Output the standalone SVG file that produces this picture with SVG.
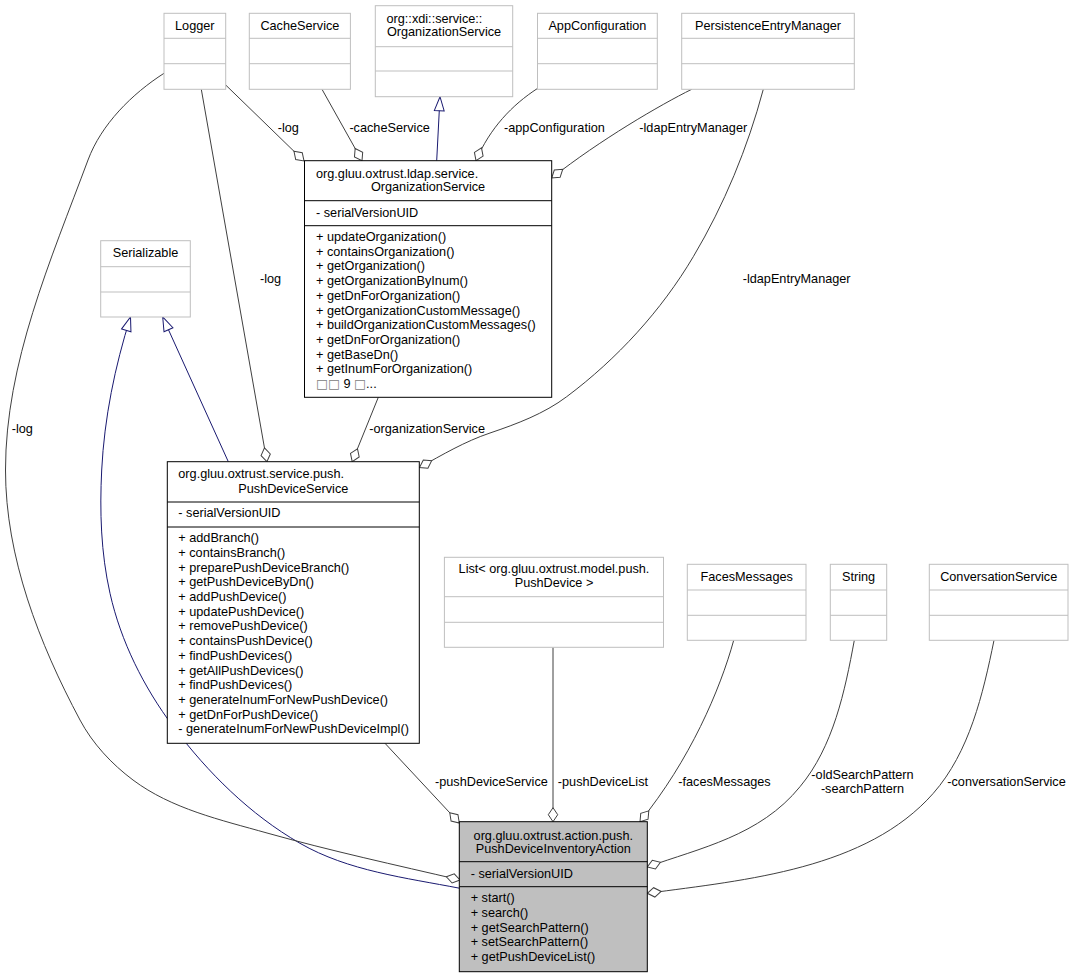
<svg xmlns="http://www.w3.org/2000/svg" width="1073" height="977" viewBox="0 0 1073 977">
<style>
text{font-family:"Liberation Sans",Arial,sans-serif;font-size:12.7px;fill:#000}
.c{text-anchor:middle}
.ext{fill:#fff;stroke:#bfbfbf;stroke-width:1}
.extl{stroke:#bfbfbf;stroke-width:1}
.main{fill:#fff;stroke:#000;stroke-width:1}
.cur{fill:#bfbfbf;stroke:#000;stroke-width:1}
.ml{stroke:#000;stroke-width:1}
.use{fill:none;stroke:#404040;stroke-width:1;marker-end:url(#dia)}
.inh{fill:none;stroke:#191970;stroke-width:1;marker-end:url(#tri)}
.tofu{fill:#808080;font-family:"DejaVu Sans",sans-serif}
</style>
<defs>
<marker id="dia" markerUnits="userSpaceOnUse" viewBox="-1 -6 16 12" markerWidth="16" markerHeight="12" refX="14" refY="0" orient="auto" style="overflow:visible">
<path d="M0,0 L7,-4.7 L14,0 L7,4.7 Z" fill="#fff" stroke="#404040" stroke-width="1"/>
</marker>
<marker id="tri" markerUnits="userSpaceOnUse" viewBox="-1 -6 16 12" markerWidth="16" markerHeight="12" refX="14" refY="0" orient="auto" style="overflow:visible">
<path d="M0,-4.9 L14,0 L0,4.9 Z" fill="#fff" stroke="#191970" stroke-width="1"/>
</marker>
</defs>
<rect width="1073" height="977" fill="#fff"/>
<g id="connectors">
<g id="e-logger-orgsvc"><path class="use" d="M225.7,85 L304,161"/><text x="277.7" y="132">-log</text></g>
<g id="e-cache-orgsvc"><path class="use" d="M322,89.3 L362,160.7"/><text x="349.4" y="132">-cacheService</text></g>
<g id="e-xdi-orgsvc"><path class="inh" d="M436.7,160.7 L440,96.7"/></g>
<g id="e-appconf-orgsvc"><path class="use" d="M537.7,88.3 C512,105 490,128 476,160.7"/><text x="504" y="132">-appConfiguration</text></g>
<g id="e-pem-orgsvc"><path class="use" d="M691.7,89.3 C660,105 600,140 551.7,178"/><text x="639.3" y="132">-ldapEntryManager</text></g>
<g id="e-logger-pds"><path class="use" d="M201.3,89.3 L266.9,461.7"/><text x="260" y="283">-log</text></g>
<g id="e-pem-pds"><path class="use" d="M763.3,89.3 C747.6,148 724.2,204.7 693.3,256.7 C661.2,310.8 617,359 566.7,396.7 C544.1,413.7 516.9,423.9 490,433 C465.1,441.4 442.3,454.7 419.5,467.5"/><text x="742.7" y="283">-ldapEntryManager</text></g>
<g id="e-orgsvc-pds"><path class="use" d="M378.3,397.3 L352.2,461.7"/><text x="369.3" y="433">-organizationService</text></g>
<g id="e-ser-pds"><path class="inh" d="M228.3,461.7 L162.7,317"/></g>
<g id="e-ser-action"><path class="inh" d="M460,888.3 C405.7,877.8 348.2,871 300,843.3 C250.1,814.6 207.7,772.6 173.3,726.7 C143.8,687.3 120.8,641.5 110,593.3 C100.9,552.9 99.6,511.2 101.7,470 C104.3,418.1 114.9,366.3 130.5,317"/></g>
<g id="e-logger-action"><path class="use" d="M164,73.3 C132,93.8 101.3,124.3 88,160 C50.6,260.6 5.5,363 5.5,470 C5.5,557 39.1,643.4 80,720 C92.5,743.5 111.6,764 133,780 C171.4,808.8 220.9,820 267,833 C330.6,850.9 395.5,864.9 460,880"/><text x="11.7" y="433">-log</text></g>
<g id="e-pds-action"><path class="use" d="M385,743.3 L459.3,823"/><text x="435" y="786">-pushDeviceService</text></g>
<g id="e-list-action"><path class="use" d="M553,647.3 L553,821.7"/><text x="557.8" y="786">-pushDeviceList</text></g>
<g id="e-faces-action"><path class="use" d="M733.7,640.3 C720,690 690,760 640,821.7"/><text x="678.3" y="786">-facesMessages</text></g>
<g id="e-string-action"><path class="use" d="M854.3,640.3 C844.9,691.3 833.3,746.7 800,786.7 C760,836 700,848 647.3,867"/><text class="c" x="862.5" y="779">-oldSearchPattern</text><text class="c" x="862.5" y="793">-searchPattern</text></g>
<g id="e-conv-action"><path class="use" d="M994,640.3 C983,694.1 969.5,752.1 933.3,793.3 C866.6,869 747.3,879.9 647.3,893.3"/><text x="947.3" y="786">-conversationService</text></g>
</g>
<g id="n-logger">
<rect class="ext" x="164" y="13.3" width="61.7" height="76"/>
<line class="extl" x1="164" y1="38.3" x2="225.7" y2="38.3"/><line class="extl" x1="164" y1="63.7" x2="225.7" y2="63.7"/>
<text class="c" x="194.8" y="29.5">Logger</text>
</g>
<g id="n-cache">
<rect class="ext" x="249.3" y="13.3" width="101.1" height="76"/>
<line class="extl" x1="249.3" y1="38.3" x2="350.4" y2="38.3"/><line class="extl" x1="249.3" y1="63.7" x2="350.4" y2="63.7"/>
<text class="c" x="299.9" y="29.5">CacheService</text>
</g>
<g id="n-xdi">
<rect class="ext" x="375.3" y="5.7" width="137.4" height="91"/>
<line class="extl" x1="375.3" y1="46.7" x2="512.7" y2="46.7"/><line class="extl" x1="375.3" y1="71" x2="512.7" y2="71"/>
<text x="386.5" y="22.5">org::xdi::service::</text>
<text class="c" x="444" y="36">OrganizationService</text>
</g>
<g id="n-appconf">
<rect class="ext" x="537.5" y="13.3" width="119.8" height="76"/>
<line class="extl" x1="537.5" y1="38.3" x2="657.3" y2="38.3"/><line class="extl" x1="537.5" y1="63.7" x2="657.3" y2="63.7"/>
<text class="c" x="597.4" y="29.5">AppConfiguration</text>
</g>
<g id="n-pem">
<rect class="ext" x="681.7" y="13.3" width="172.6" height="76"/>
<line class="extl" x1="681.7" y1="38.3" x2="854.3" y2="38.3"/><line class="extl" x1="681.7" y1="63.7" x2="854.3" y2="63.7"/>
<text class="c" x="768" y="29.5">PersistenceEntryManager</text>
</g>
<g id="n-serializable">
<rect class="ext" x="100.7" y="240.7" width="89.6" height="76.3"/>
<line class="extl" x1="100.7" y1="266.7" x2="190.3" y2="266.7"/><line class="extl" x1="100.7" y1="292" x2="190.3" y2="292"/>
<text class="c" x="145.5" y="257">Serializable</text>
</g>
<g id="n-orgsvc">
<rect class="main" x="304.5" y="160.7" width="247.2" height="236.6"/>
<line class="ml" x1="304.5" y1="200.7" x2="551.7" y2="200.7"/><line class="ml" x1="304.5" y1="225.7" x2="551.7" y2="225.7"/>
<text x="316" y="177.5">org.gluu.oxtrust.ldap.service.</text>
<text class="c" x="428" y="191">OrganizationService</text>
<text x="316" y="217.3">- serialVersionUID</text>
<text x="316"><tspan x="316" y="241">+ updateOrganization()</tspan><tspan x="316" y="255.7">+ containsOrganization()</tspan><tspan x="316" y="270.4">+ getOrganization()</tspan><tspan x="316" y="285.1">+ getOrganizationByInum()</tspan><tspan x="316" y="299.8">+ getDnForOrganization()</tspan><tspan x="316" y="314.5">+ getOrganizationCustomMessage()</tspan><tspan x="316" y="329.2">+ buildOrganizationCustomMessages()</tspan><tspan x="316" y="343.9">+ getDnForOrganization()</tspan><tspan x="316" y="358.6">+ getBaseDn()</tspan><tspan x="316" y="373.3">+ getInumForOrganization()</tspan><tspan x="316" y="388"><tspan class="tofu">□□</tspan> 9 <tspan class="tofu">□</tspan>...</tspan></text>
</g>
<g id="n-pds">
<rect class="main" x="167.3" y="461.7" width="252" height="281.6"/>
<line class="ml" x1="167.3" y1="502" x2="419.3" y2="502"/><line class="ml" x1="167.3" y1="527" x2="419.3" y2="527"/>
<text x="178.3" y="478.3">org.gluu.oxtrust.service.push.</text>
<text class="c" x="293.3" y="492.5">PushDeviceService</text>
<text x="178.3" y="517.3">- serialVersionUID</text>
<text x="178.3"><tspan x="178.3" y="542.3">+ addBranch()</tspan><tspan x="178.3" y="557">+ containsBranch()</tspan><tspan x="178.3" y="571.7">+ preparePushDeviceBranch()</tspan><tspan x="178.3" y="586.4">+ getPushDeviceByDn()</tspan><tspan x="178.3" y="601.1">+ addPushDevice()</tspan><tspan x="178.3" y="615.8">+ updatePushDevice()</tspan><tspan x="178.3" y="630.4">+ removePushDevice()</tspan><tspan x="178.3" y="645.1">+ containsPushDevice()</tspan><tspan x="178.3" y="659.8">+ findPushDevices()</tspan><tspan x="178.3" y="674.5">+ getAllPushDevices()</tspan><tspan x="178.3" y="689.2">+ findPushDevices()</tspan><tspan x="178.3" y="703.9">+ generateInumForNewPushDevice()</tspan><tspan x="178.3" y="718.6">+ getDnForPushDevice()</tspan><tspan x="178.3" y="733.3">- generateInumForNewPushDeviceImpl()</tspan></text>
</g>
<g id="n-list">
<rect class="ext" x="444.4" y="557.3" width="219.1" height="90"/>
<line class="extl" x1="444.4" y1="596.7" x2="663.5" y2="596.7"/><line class="extl" x1="444.4" y1="622.3" x2="663.5" y2="622.3"/>
<text class="c" x="554" y="573">List&lt; org.gluu.oxtrust.model.push.</text>
<text class="c" x="554" y="586.5">PushDevice &gt;</text>
</g>
<g id="n-faces">
<rect class="ext" x="687.3" y="564.3" width="118.7" height="76"/>
<line class="extl" x1="687.3" y1="590" x2="806" y2="590"/><line class="extl" x1="687.3" y1="615.3" x2="806" y2="615.3"/>
<text class="c" x="746.7" y="580.5">FacesMessages</text>
</g>
<g id="n-string">
<rect class="ext" x="830.3" y="564.3" width="56.4" height="76"/>
<line class="extl" x1="830.3" y1="590" x2="886.7" y2="590"/><line class="extl" x1="830.3" y1="615.3" x2="886.7" y2="615.3"/>
<text class="c" x="858.5" y="580.5">String</text>
</g>
<g id="n-conv">
<rect class="ext" x="929.3" y="564.3" width="138.7" height="76"/>
<line class="extl" x1="929.3" y1="590" x2="1068" y2="590"/><line class="extl" x1="929.3" y1="615.3" x2="1068" y2="615.3"/>
<text class="c" x="998.7" y="580.5">ConversationService</text>
</g>
<g id="n-action">
<rect class="cur" x="459.3" y="821.7" width="188" height="150"/>
<line class="ml" x1="459.3" y1="861.7" x2="647.3" y2="861.7"/><line class="ml" x1="459.3" y1="886.7" x2="647.3" y2="886.7"/>
<text class="c" x="553.3" y="839.5">org.gluu.oxtrust.action.push.</text>
<text class="c" x="553.3" y="853">PushDeviceInventoryAction</text>
<text x="470.7" y="877.7">- serialVersionUID</text>
<text x="470.7"><tspan x="470.7" y="902.3">+ start()</tspan><tspan x="470.7" y="916.9">+ search()</tspan><tspan x="470.7" y="931.5">+ getSearchPattern()</tspan><tspan x="470.7" y="946.1">+ setSearchPattern()</tspan><tspan x="470.7" y="960.7">+ getPushDeviceList()</tspan></text>
</g>
</svg>
